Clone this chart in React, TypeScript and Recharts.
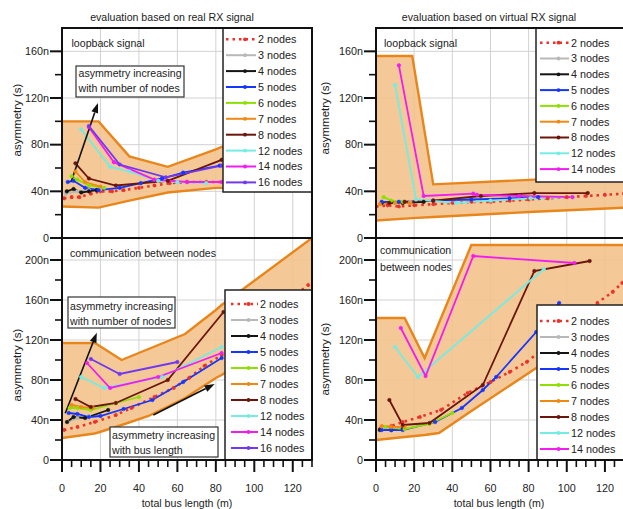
import React from 'react';
import { ComposedChart, Line, Area, XAxis, YAxis, CartesianGrid, ReferenceLine } from 'recharts';

type Pt = [number, number];
type Series = { nodes: number; pts: Pt[] };

const FONT = '"Liberation Sans", Arial, sans-serif';

// axis ticks (minor + major), grid lines at the major ones
const xTicks = [0, 5, 10, 15, 20, 25, 30, 35, 40, 45, 50, 55, 60, 65, 70, 75, 80, 85, 90, 95, 100, 105, 110, 115, 120, 125, 130];
const yTicksLoop = [0, 20, 40, 60, 80, 100, 120, 140, 160];
const yTicksComm = [0, 20, 40, 60, 80, 100, 120, 140, 160, 180, 200];
const gridX = [20, 40, 60, 80, 100, 120];
const gridYLoop = [40, 80, 120, 160];
const gridYComm = [40, 80, 120, 160, 200];

const realNodes = [2, 3, 4, 5, 6, 7, 8, 12, 14, 16];
const virtNodes = [2, 3, 4, 5, 6, 7, 8, 12, 14];

// orange envelope: [bus length, lower, upper]
const realLoopBand: [number, number, number][] = [[0, 27, 100], [19, 26, 100], [35, 32, 70], [55, 39, 61], [80, 43, 76], [83, 43, 78], [130, 44, 78]];
const virtLoopBand: [number, number, number][] = [[0, 15, 156], [19, 17, 156], [30, 18, 46], [83, 22.5, 50], [130, 26, 52]];
const realCommBand: [number, number, number][] = [[0, 22, 117], [17, 26.5, 117], [18, 27, 116], [31, 35, 100], [45, 44, 111], [64, 62, 126], [80, 82, 150], [83, 85, 155], [130, 143, 222]];
const virtCommBand: [number, number, number][] = [[0, 20, 142], [15, 23, 142], [25.5, 25, 102], [33, 27, 137], [50, 49, 215], [84, 92, 215], [130, 150, 215]];

// loopback signal, real RX
const realLoop: Series[] = [
  { nodes: 2, pts: [[1, 34], [5, 35], [9, 35], [15, 38], [20, 40], [26, 40], [32, 41], [40, 43], [48, 45], [56, 47], [65, 48], [75, 48], [85, 48]] },
  { nodes: 3, pts: [[2, 38], [8, 40], [14, 41], [20, 42]] },
  { nodes: 4, pts: [[2.5, 40], [6, 42], [10, 39], [14, 40], [18, 41]] },
  { nodes: 5, pts: [[3, 48], [6, 49], [12, 43], [19, 41], [30, 43], [41, 47], [52, 51], [63, 56], [82, 62]] },
  { nodes: 6, pts: [[5, 53], [8, 50], [14, 45], [22, 43]] },
  { nodes: 7, pts: [[7, 57], [12, 48], [20, 44]] },
  { nodes: 8, pts: [[7, 64], [14, 51], [28, 45], [55, 49], [83, 67]] },
  { nodes: 12, pts: [[10, 93], [25, 61], [35, 57], [50, 49], [60, 48], [75, 47]] },
  { nodes: 14, pts: [[14, 95], [27, 65], [48, 50], [65, 48], [83, 48]] },
  { nodes: 16, pts: [[14, 96], [30, 63], [54, 52], [83, 62]] },
];

// loopback signal, virtual RX
const virtLoop: Series[] = [
  { nodes: 2, pts: [[0, 27], [6, 28], [12, 27], [20, 28], [30, 29], [40, 30], [50, 31], [60, 31], [70, 32], [80, 33], [90, 34], [100, 35], [110, 36], [120, 37], [130, 38]] },
  { nodes: 3, pts: [[3, 30], [10, 30], [18, 31]] },
  { nodes: 4, pts: [[3, 30], [8, 31], [14, 30], [25, 31]] },
  { nodes: 5, pts: [[3, 31], [12, 31], [30, 32], [50, 33], [70, 34], [85, 35]] },
  { nodes: 6, pts: [[4, 35], [8, 32], [14, 31]] },
  { nodes: 7, pts: [[2, 29], [10, 30], [18, 30]] },
  { nodes: 8, pts: [[7, 30], [15, 31], [30, 32], [55, 36], [83, 38.5], [111, 38.5]] },
  { nodes: 12, pts: [[10, 131], [21, 33], [42, 30], [60, 32], [81, 34], [103, 35]] },
  { nodes: 14, pts: [[12, 148], [25, 36], [51, 38], [53, 37], [75, 36], [103, 35]] },
];

// communication between nodes, real RX
const realComm: Series[] = [
  { nodes: 2, pts: [[1, 30], [8, 33], [17, 38], [28, 45], [36, 52], [48, 63], [58, 72], [66, 82], [74, 94], [83, 105], [128, 175]] },
  { nodes: 3, pts: [[3, 38], [8, 42], [14, 44]] },
  { nodes: 4, pts: [[2.6, 38], [6, 43], [12, 42], [24, 50]] },
  { nodes: 5, pts: [[3.5, 47], [8, 46], [14, 43], [20, 44], [32, 51], [47, 60], [63, 78], [83, 102]] },
  { nodes: 6, pts: [[4, 52], [8, 52], [15, 50], [28, 57], [40, 63]] },
  { nodes: 7, pts: [[5, 55], [10, 53], [16, 52]] },
  { nodes: 8, pts: [[7, 61], [15, 53], [28, 57], [55, 80], [84, 148]] },
  { nodes: 12, pts: [[10, 83], [22, 72], [52, 83], [83, 113]] },
  { nodes: 14, pts: [[13, 97], [25, 72], [50, 83], [83, 107]] },
  { nodes: 16, pts: [[15, 101], [30, 86], [60, 98]] },
];

// communication between nodes, virtual RX
const virtComm: Series[] = [
  { nodes: 2, pts: [[2, 31], [8, 34], [14, 38], [23, 43], [34, 50], [48, 67], [60, 78], [70, 88], [79, 98], [100, 130], [116, 157], [124, 168], [129, 177]] },
  { nodes: 3, pts: [[3, 31], [8, 31], [14, 32]] },
  { nodes: 4, pts: [[2, 30], [8, 30], [14, 31]] },
  { nodes: 5, pts: [[3, 30], [8, 30], [14, 30], [31, 38], [45, 52], [56, 70], [63, 83], [84, 128], [96, 157]] },
  { nodes: 6, pts: [[5, 33], [15, 31], [28, 36], [40, 47]] },
  { nodes: 7, pts: [[3, 34], [8, 33], [15, 33]] },
  { nodes: 8, pts: [[7, 60], [14, 35], [28, 37], [56, 75], [83, 189], [112, 199]] },
  { nodes: 12, pts: [[10, 113], [22, 83], [88, 191]] },
  { nodes: 14, pts: [[13, 132], [26, 84], [51, 204], [104, 197]] },
];

// annotation arrows in data units
const realLoopArrows: [Pt, Pt][] = [[[4.8, 48.5], [18.7, 115.7]]];
const realCommArrows: [Pt, Pt][] = [[[1.7, 46.7], [18.1, 127.3]], [[47.5, 45], [79.4, 76]]];

const nodeColor: Record<number, string> = {
  2: '#e8322b',
  3: '#b8b8b8',
  4: '#141414',
  5: '#1436ff',
  6: '#8ee000',
  7: '#ee8a14',
  8: '#6a160c',
  12: '#74ece4',
  14: '#f01cf0',
  16: '#7038f0',
};

const XTick = (props: any) => {
  const { x, y, payload } = props;
  const v = payload.value;
  const major = v % 20 === 0;
  return (
    <g>
      <line x1={x} y1={y} x2={x} y2={y + (major ? 12 : 7)} stroke="#111" strokeWidth={major ? 2 : 1.6} />
      {major && (
        <text x={x} y={y + 31.5} textAnchor="middle" fontSize={10.8} fontFamily={FONT} fill="#222">
          {v}
        </text>
      )}
    </g>
  );
};

const YTick = (props: any) => {
  const { x, y, payload } = props;
  const v = payload.value;
  const major = v % 40 === 0;
  return (
    <g>
      <line x1={x} y1={y} x2={x - (major ? 12 : 7)} y2={y} stroke="#111" strokeWidth={major ? 2 : 1.6} />
      {major && (
        <text x={x - 13} y={y} dy={3.8} textAnchor="end" fontSize={10.8} fontFamily={FONT} fill="#222">
          {v === 0 ? '0' : `${v}n`}
        </text>
      )}
    </g>
  );
};

const Arrow = (p: any) => {
  const { x1, y1, x2, y2 } = p;
  const a = Math.atan2(y2 - y1, x2 - x1);
  const L = 10;
  const W = 3.5;
  const bx = x2 - L * Math.cos(a);
  const by = y2 - L * Math.sin(a);
  const pts = `${x2},${y2} ${bx + W * Math.sin(a)},${by - W * Math.cos(a)} ${bx - W * Math.sin(a)},${by + W * Math.cos(a)}`;
  return (
    <g>
      <line x1={x1} y1={y1} x2={bx} y2={by} stroke="#111" strokeWidth={1.6} />
      <polygon points={pts} fill="#111" />
    </g>
  );
};

function Panel(props: {
  left: number;
  top: number;
  height: number;
  marginTop: number;
  marginBottom: number;
  right: number;
  yMax: number;
  yTicks: number[];
  gridY: number[];
  band: [number, number, number][];
  series: Series[];
  showX: boolean;
  arrows?: [Pt, Pt][];
}) {
  const { left, top, height, marginTop, marginBottom, right, yMax, yTicks, gridY, band, series, showX, arrows = [] } = props;
  const bandData = band.map(([x, lo, hi]) => ({ x, r: [lo, hi] }));
  return (
    <div style={{ position: 'absolute', left, top }}>
      <ComposedChart width={320} height={height} margin={{ top: marginTop, right, bottom: marginBottom, left: 0 }}>
        <CartesianGrid
          stroke="#d2d2d2"
          strokeWidth={1}
          verticalCoordinatesGenerator={({ offset }: any) => gridX.map((v) => offset.left + (v / 130) * offset.width)}
          horizontalCoordinatesGenerator={({ offset }: any) => gridY.map((v) => offset.top + offset.height * (1 - v / yMax))}
        />
        <XAxis
          type="number"
          dataKey="x"
          domain={[0, 130]}
          ticks={xTicks}
          interval={0}
          hide={!showX}
          height={showX ? 49 : 0}
          tick={XTick}
          tickLine={false}
          axisLine={false}
          tickSize={0}
          tickMargin={0}
          allowDataOverflow
        />
        <YAxis
          type="number"
          domain={[0, yMax]}
          ticks={yTicks}
          interval={0}
          width={62}
          tick={YTick}
          tickLine={false}
          axisLine={false}
          tickSize={0}
          tickMargin={0}
          allowDataOverflow
        />
        <Area
          data={bandData}
          dataKey="r"
          type="linear"
          stroke="#e8861c"
          strokeWidth={2.4}
          fill="#f2c089"
          fillOpacity={0.88}
          dot={false}
          activeDot={false}
          isAnimationActive={false}
        />
        {series.map((s) => {
          const c = nodeColor[s.nodes];
          const dotted = s.nodes === 2;
          return (
            <Line
              key={s.nodes}
              data={s.pts.map(([x, y]) => ({ x, y }))}
              dataKey="y"
              type="linear"
              stroke={c}
              strokeWidth={dotted ? 2.6 : 1.8}
              strokeDasharray={dotted ? '2.5 4' : undefined}
              dot={{ r: 1.8, fill: c, stroke: c, strokeWidth: 0.5 }}
              activeDot={false}
              isAnimationActive={false}
            />
          );
        })}
        {arrows.map(([a, b], i) => (
          <ReferenceLine
            key={i}
            segment={[{ x: a[0], y: a[1] }, { x: b[0], y: b[1] }]}
            stroke="#111"
            shape={Arrow}
          />
        ))}
      </ComposedChart>
    </div>
  );
}

type LegendLayout = { nodes: number[]; x: number; y: number; w: number; h: number; row0: number; step: number; s0: number; s1: number; tx: number };

const legends: LegendLayout[] = [
  { nodes: realNodes, x: 223, y: 28, w: 89, h: 164, row0: 39.3, step: 15.9, s0: 226, s1: 256, tx: 258 },
  { nodes: virtNodes, x: 536, y: 28, w: 90, h: 154, row0: 42.7, step: 15.8, s0: 540, s1: 569, tx: 571 },
  { nodes: realNodes, x: 225, y: 290, w: 87, h: 170, row0: 304, step: 16, s0: 231, s1: 258, tx: 260 },
  { nodes: virtNodes, x: 537, y: 305, w: 89, h: 155, row0: 321, step: 16, s0: 540, s1: 569, tx: 571 },
];

function Legends() {
  return (
    <g>
      {legends.map((L, li) => (
        <g key={li}>
          <rect x={L.x} y={L.y} width={L.w} height={L.h} fill="#fff" stroke="#222" strokeWidth={1.5} />
          {L.nodes.map((n, i) => {
            const cy = L.row0 + i * L.step;
            const c = nodeColor[n];
            const dotted = n === 2;
            const mx = (L.s0 + L.s1) / 2 + 4;
            return (
              <g key={n}>
                <line
                  x1={L.s0}
                  y1={cy}
                  x2={L.s1}
                  y2={cy}
                  stroke={c}
                  strokeWidth={dotted ? 2.6 : 2}
                  strokeDasharray={dotted ? '2.5 4' : undefined}
                />
                <circle cx={mx} cy={cy} r={1.9} fill={c} />
                <text x={L.tx} y={cy + 3.9} fontSize={10.8} fontFamily={FONT} fill="#222">
                  {`${n} nodes`}
                </text>
              </g>
            );
          })}
        </g>
      ))}
    </g>
  );
}

function TextBox({ x, y, w, h, lines, tx, ty }: { x: number; y: number; w: number; h: number; lines: string[]; tx: number; ty: number }) {
  return (
    <g>
      <rect x={x} y={y} width={w} height={h} fill="#fff" stroke="#333" strokeWidth={1.2} />
      {lines.map((l, i) => (
        <text key={i} x={tx} y={ty + i * 15.3} fontSize={10.6} fontFamily={FONT} fill="#222">
          {l}
        </text>
      ))}
    </g>
  );
}

function Overlay() {
  const t = { fontSize: 10.6, fontFamily: FONT, fill: '#222' } as const;
  const yl = { fontSize: 11.5, fontFamily: FONT, fill: '#222' } as const;
  return (
    <svg width={623} height={509} style={{ position: 'absolute', left: 0, top: 0, pointerEvents: 'none' }}>
      <text x={172} y={20.5} textAnchor="middle" fontSize={10.6} fontFamily={FONT} fill="#222">evaluation based on real RX signal</text>
      <text x={489} y={20.5} textAnchor="middle" fontSize={10.6} fontFamily={FONT} fill="#222">evaluation based on virtual RX signal</text>

      <text x={71.5} y={46.5} {...t}>loopback signal</text>
      <text x={384} y={46.5} {...t}>loopback signal</text>
      <text x={70} y={257} {...t}>communication between nodes</text>
      <text x={380} y={254} {...t}>communication</text>
      <text x={380} y={270.5} {...t}>between nodes</text>

      <TextBox x={76} y={66} w={108} h={31} lines={['asymmetry increasing', 'with number of nodes']} tx={78.5} ty={77} />
      <TextBox x={68} y={297} w={107} h={31} lines={['asymmetry increasing', 'with number of nodes']} tx={70} ty={309.5} />
      <TextBox x={110} y={427} w={108} h={30} lines={['asymmetry increasing', 'with bus length']} tx={112} ty={438.7} />

      <Legends />

      <text transform="translate(21,120) rotate(-90)" textAnchor="middle" {...yl}>asymmetry (s)</text>
      <text transform="translate(21,365) rotate(-90)" textAnchor="middle" {...yl}>asymmetry (s)</text>
      <text transform="translate(329,118) rotate(-90)" textAnchor="middle" {...yl}>asymmetry (s)</text>
      <text transform="translate(329,359) rotate(-90)" textAnchor="middle" {...yl}>asymmetry (s)</text>

      <text x={187} y={506.5} textAnchor="middle" {...t}>total bus length (m)</text>
      <text x={499} y={506.5} textAnchor="middle" {...t}>total bus length (m)</text>

      <rect x={62} y={28} width={250} height={432} fill="none" stroke="#111" strokeWidth={2} />
      <line x1={62} y1={238} x2={312} y2={238} stroke="#111" strokeWidth={2} />
      <rect x={376} y={28} width={252} height={432} fill="none" stroke="#111" strokeWidth={2} />
      <line x1={376} y1={238} x2={628} y2={238} stroke="#111" strokeWidth={2} />
    </svg>
  );
}

export default function App() {
  return (
    <div style={{ position: 'fixed', left: 0, top: 0, width: 623, height: 509, overflow: 'hidden', background: '#fff', fontFamily: FONT }}>
      <Panel left={0} top={0} height={246} marginTop={28} marginBottom={8} right={8} yMax={180} yTicks={yTicksLoop} gridY={gridYLoop} band={realLoopBand} series={realLoop} showX={false} arrows={realLoopArrows} />
      <Panel left={314} top={0} height={246} marginTop={28} marginBottom={8} right={10} yMax={180} yTicks={yTicksLoop} gridY={gridYLoop} band={virtLoopBand} series={virtLoop} showX={false} />
      <Panel left={0} top={230} height={279} marginTop={8} marginBottom={0} right={8} yMax={222} yTicks={yTicksComm} gridY={gridYComm} band={realCommBand} series={realComm} showX={true} arrows={realCommArrows} />
      <Panel left={314} top={230} height={279} marginTop={8} marginBottom={0} right={10} yMax={222} yTicks={yTicksComm} gridY={gridYComm} band={virtCommBand} series={virtComm} showX={true} />
      <Overlay />
    </div>
  );
}
